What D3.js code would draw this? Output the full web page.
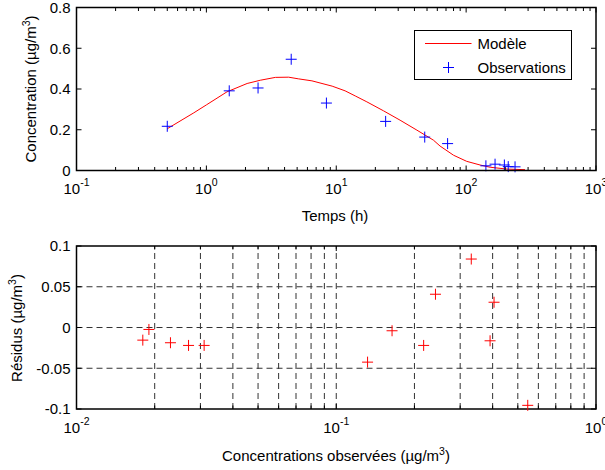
<!DOCTYPE html>
<html>
<head>
<meta charset="utf-8">
<script src="https://cdn.jsdelivr.net/npm/d3@7"></script>
<style>
  body { margin: 0; background: #fff; }
  svg { display: block; font-family: "Liberation Sans", Arial, Helvetica, sans-serif; }
</style>
</head>
<body>
<div id="plot"></div>
<script>
// Observations (temps en h, concentration en µg/m3)
const obsTime = [0.5, 1.5, 2.5, 4.5, 8.4, 24, 48, 72, 142, 167, 197, 211, 238];
const obsConc = [0.217, 0.391, 0.405, 0.546, 0.331, 0.241, 0.164, 0.132, 0.023, 0.031, 0.027, 0.019, 0.018];
// Résidus (modèle - observation)
const residus = [-0.022, -0.0163, 0.031, -0.0955, 0.084, 0.0408, -0.004, -0.0425, -0.0187, -0.022, -0.022, -0.0024, -0.0155];

// Courbe du modèle
const modelTime = [0.5, 0.8, 1.0, 1.44, 2.06, 2.6, 3.4, 4.3, 5.1, 6.5, 9.3, 11.7, 14, 17.2, 23.1, 31, 41.8, 56, 63, 80, 101, 128, 153, 206, 284];
const modelConc = [0.205, 0.283, 0.322, 0.386, 0.427, 0.443, 0.457, 0.458, 0.45, 0.44, 0.414, 0.391, 0.366, 0.337, 0.293, 0.247, 0.198, 0.149, 0.12, 0.075, 0.045, 0.027, 0.016, 0.007, 0.004];

const topYTicks = [0, 0.2, 0.4, 0.6, 0.8];
const botYTicks = [-0.1, -0.05, 0, 0.05, 0.1];
const botYLabels = ["-0.1", "-0.05", "0", "0.05", "0.1"];

const W = 605, H = 470;
const fs = 15;

const svg = d3.select("#plot").append("svg")
  .attr("width", W).attr("height", H);

const plus = "M-5.5,0H5.5M0,-5.5V5.5";

function frame(g, x, y, yTicks, yLabels, grid) {
  const [x0, x1] = x.range();
  const [y0, y1] = y.range(); // y0 bas, y1 haut
  const xt = x.ticks();
  const isMajor = v => Math.abs(Math.log10(v) - Math.round(Math.log10(v))) < 1e-9;

  if (grid) {
    g.append("g").selectAll("line").data(xt.filter(v => v > x.domain()[0] && v < x.domain()[1]))
      .join("line")
      .attr("x1", d => x(d)).attr("x2", d => x(d))
      .attr("y1", y0).attr("y2", y1)
      .attr("stroke", "#333").attr("stroke-dasharray", "6,4");
    g.append("g").selectAll("line").data(yTicks.filter(v => v > y.domain()[0] && v < y.domain()[1]))
      .join("line")
      .attr("x1", x0).attr("x2", x1)
      .attr("y1", d => y(d)).attr("y2", d => y(d))
      .attr("stroke", "#333").attr("stroke-dasharray", "6,4");
  }

  // graduations vers l'intérieur, en bas et en haut
  const tk = g.append("g").attr("stroke", "#000").attr("stroke-width", 1);
  xt.forEach(v => {
    const len = isMajor(v) ? 5 : 3.5;
    tk.append("line").attr("x1", x(v)).attr("x2", x(v)).attr("y1", y0).attr("y2", y0 - len);
    tk.append("line").attr("x1", x(v)).attr("x2", x(v)).attr("y1", y1).attr("y2", y1 + len);
  });
  yTicks.forEach(v => {
    tk.append("line").attr("x1", x0).attr("x2", x0 + 5).attr("y1", y(v)).attr("y2", y(v));
    tk.append("line").attr("x1", x1).attr("x2", x1 - 5).attr("y1", y(v)).attr("y2", y(v));
  });

  g.append("rect")
    .attr("x", x0).attr("y", y1)
    .attr("width", x1 - x0).attr("height", y0 - y1)
    .attr("fill", "none").attr("stroke", "#000").attr("stroke-width", 1.5);

  // étiquettes 10^n
  xt.filter(isMajor).forEach(v => {
    const t = g.append("text")
      .attr("x", x(v)).attr("y", y0 + 23.5)
      .attr("text-anchor", "middle")
      .attr("font-size", fs);
    t.append("tspan").text("10");
    t.append("tspan").attr("dy", -8).attr("font-size", 10.5).text(Math.round(Math.log10(v)));
  });

  g.append("g").selectAll("text").data(yTicks)
    .join("text")
    .attr("x", x0 - 6).attr("y", d => y(d))
    .attr("dy", "0.36em")
    .attr("text-anchor", "end")
    .attr("font-size", fs)
    .text((d, i) => yLabels[i]);
}

function unitLabel(sel, prefix) {
  sel.append("tspan").text(prefix + " (\u00b5g/m");
  sel.append("tspan").attr("dy", -6).attr("font-size", 10.5).text("3");
  sel.append("tspan").attr("dy", 6).text(")");
}

// ---- haut : concentration vs temps
const xTop = d3.scaleLog().domain([0.1, 1000]).range([76.5, 596]);
const yTop = d3.scaleLinear().domain([0, 0.8]).range([170.5, 7.5]);
const gTop = svg.append("g");

gTop.append("path")
  .datum(modelTime.map((t, i) => [t, modelConc[i]]))
  .attr("fill", "none").attr("stroke", "#ff0000").attr("stroke-width", 1)
  .attr("d", d3.line().x(d => xTop(d[0])).y(d => yTop(d[1])));

gTop.selectAll(".obs").data(obsTime)
  .join("path")
  .attr("transform", (d, i) => `translate(${xTop(d)},${yTop(obsConc[i])})`)
  .attr("d", plus).attr("stroke", "#0000ff").attr("stroke-width", 1).attr("fill", "none");

frame(gTop, xTop, yTop, topYTicks, topYTicks.map(String), false);

gTop.append("text").attr("x", 335).attr("y", 221)
  .attr("text-anchor", "middle").attr("font-size", fs).text("Temps (h)");
unitLabel(gTop.append("text")
  .attr("transform", "translate(36,89) rotate(-90)")
  .attr("text-anchor", "middle").attr("font-size", fs), "Concentration");

// légende
const leg = gTop.append("g");
leg.append("rect").attr("x", 414.5).attr("y", 30.5).attr("width", 157).attr("height", 49)
  .attr("fill", "#fff").attr("stroke", "#000").attr("stroke-width", 1);
leg.append("line").attr("x1", 425).attr("x2", 471.5).attr("y1", 43.5).attr("y2", 43.5)
  .attr("stroke", "#ff0000");
leg.append("text").attr("x", 477.5).attr("y", 43.5).attr("dy", "0.36em")
  .attr("font-size", fs).text("Mod\u00e8le");
leg.append("path").attr("transform", "translate(448.5,67.5)").attr("d", plus)
  .attr("stroke", "#0000ff").attr("fill", "none");
leg.append("text").attr("x", 477.5).attr("y", 67.5).attr("dy", "0.36em")
  .attr("font-size", fs).text("Observations");

// ---- bas : résidus vs concentrations observées
const xBot = d3.scaleLog().domain([0.01, 1]).range([76.5, 596]);
const yBot = d3.scaleLinear().domain([-0.1, 0.1]).range([409, 246]);
const gBot = svg.append("g");

frame(gBot, xBot, yBot, botYTicks, botYLabels, true);

gBot.selectAll(".res").data(obsConc)
  .join("path")
  .attr("transform", (d, i) => `translate(${xBot(d)},${yBot(residus[i])})`)
  .attr("d", plus).attr("stroke", "#ff0000").attr("stroke-width", 1).attr("fill", "none");

unitLabel(gBot.append("text").attr("x", 336).attr("y", 461)
  .attr("text-anchor", "middle").attr("font-size", fs), "Concentrations observ\u00e9es");
unitLabel(gBot.append("text")
  .attr("transform", "translate(22,328) rotate(-90)")
  .attr("text-anchor", "middle").attr("font-size", fs), "R\u00e9sidus");
</script>
</body>
</html>
